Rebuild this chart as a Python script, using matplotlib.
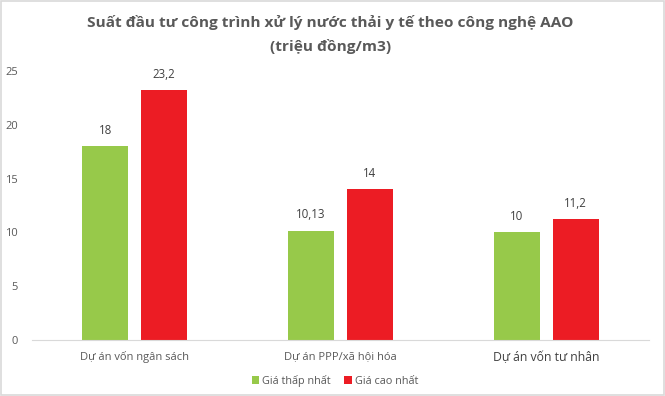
import matplotlib.pyplot as plt
import numpy as np
from matplotlib.patches import Rectangle

categories = ["Dự án vốn ngân sách", "Dự án PPP/xã hội hóa", "Dự án vốn tư nhân"]
low_values = [18, 10.13, 10]
high_values = [23.2, 14, 11.2]
low_labels = ["18", "10,13", "10"]
high_labels = ["23,2", "14", "11,2"]
series_names = ["Giá thấp nhất", "Giá cao nhất"]

GREEN = "#97c94a"
RED = "#ec1c24"
TEXT = "#595959"

plt.rcParams['font.family'] = ['Open Sans', 'DejaVu Sans']

fig = plt.figure(figsize=(6.65, 3.96), dpi=100)
ax = fig.add_axes([32 / 665, 56 / 396, 617 / 665, 269 / 396])

x = np.arange(len(categories))
width = 0.224
offset = 0.143

bars_low = ax.bar(x - offset, low_values, width, color=GREEN, label=series_names[0])
bars_high = ax.bar(x + offset, high_values, width, color=RED, label=series_names[1])

# value labels above each bar
for bars, labels in ((bars_low, low_labels), (bars_high, high_labels)):
    for b, lab in zip(bars, labels):
        ax.text(b.get_x() + b.get_width() / 2, b.get_height() + 0.9, lab,
                ha='center', va='bottom', fontsize=8.3, color="#404040")

ax.set_xlim(-0.5, 2.5)
ax.set_ylim(0, 25)
ax.set_yticks([0, 5, 10, 15, 20, 25])
ax.set_xticks(x)
ax.set_xticklabels(categories)
for i, t in enumerate(ax.get_xticklabels()):
    t.set_fontsize(8 if i < 2 else 8.8)
    t.set_color(TEXT if i < 2 else "#404040")
ax.tick_params(axis='x', length=0, pad=8)
ax.tick_params(axis='y', length=0, pad=10, labelsize=8, labelcolor=TEXT)

for s in ('top', 'right', 'left'):
    ax.spines[s].set_visible(False)
ax.spines['bottom'].set_color("#d9d9d9")

fig.text(0.497, 1 - 22 / 396, "Suất đầu tư công trình xử lý nước thải y tế theo công nghệ AAO",
         ha='center', va='center', fontsize=11.1, fontweight='bold', color=TEXT)
fig.text(0.497, 1 - 46 / 396, "(triệu đồng/m3)",
         ha='center', va='center', fontsize=11.1, fontweight='bold', color=TEXT)

fig.legend(loc='center', bbox_to_anchor=(335 / 665, 1 - 381 / 396), ncol=2,
           frameon=False, fontsize=7.8, labelcolor=TEXT, handlelength=0.7,
           handleheight=0.7, handletextpad=0.3, columnspacing=1.2)

fig.patches.append(Rectangle((0.002, 0.003), 0.996, 0.994, transform=fig.transFigure,
                             fill=False, edgecolor="#d9d9d9", linewidth=1.2))

fig.savefig("out.png", dpi=100)
